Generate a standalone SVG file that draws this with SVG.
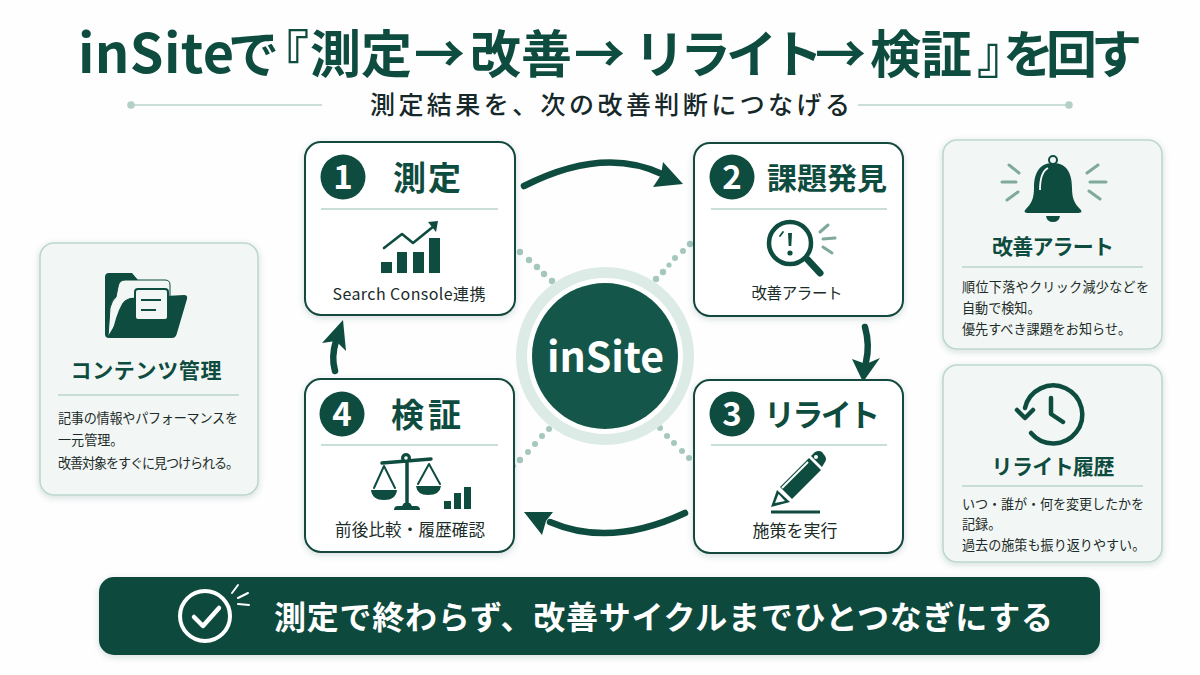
<svg xmlns="http://www.w3.org/2000/svg" width="1200" height="675" viewBox="0 0 1200 675">
<style>
text{font-family:"Noto Sans CJK JP","Noto Sans",sans-serif}
.card{fill:#fff;stroke:#12493e;stroke-width:2}
.side{fill:#f2f7f5;stroke:#bcd8ce;stroke-width:1.6}
.div{stroke:#b9d4cb;stroke-width:1.6;fill:none}
.num{fill:#0f4c40}
.numt{fill:#fff;font-size:33px;font-weight:700;text-anchor:middle}
.ttl{fill:#0f4c40;font-weight:700;font-size:33px;text-anchor:middle}
.sttl{fill:#0f4c40;font-weight:700;font-size:21px;text-anchor:middle}
.lbl{fill:#1a2b28;font-size:15.5px;text-anchor:middle}
.body{fill:#1c2b28;font-size:13.1px}
.hd{fill:#0f4c40;font-size:51px;font-weight:700}
.ic{fill:#0f4c40}
.ils{fill:none;stroke:#0f4c40;stroke-linecap:round;stroke-linejoin:round}
.ray{stroke:#7fa99b;stroke-width:3;stroke-linecap:round;fill:none}
.conn{fill:none;stroke:#0f4c40;stroke-width:6.5;stroke-linecap:round}
.dot{fill:#a5c7bc}
</style>
<defs>
<filter id="sh" x="-10%" y="-10%" width="120%" height="125%"><feDropShadow dx="0" dy="2" stdDeviation="3" flood-color="#345" flood-opacity="0.18"/></filter>
</defs>
<rect width="1200" height="675" fill="#fdfefd"/>
<g id="header">
<text class="hd" y="73"><tspan x="78" style="font-size:54px" letter-spacing="0.4">inSite</tspan><tspan x="228 258 310 361 414 470 521 574 634 680 726 772 815 870 921 977 1003 1046 1091">で『測定→改善→リライト→検証』を回す</tspan></text>
<line x1="133" y1="105" x2="322" y2="105" class="div"/><circle cx="131" cy="105" r="3.8" fill="#b3d0c6"/>
<line x1="858" y1="105" x2="1068" y2="105" class="div"/><circle cx="1069" cy="105" r="3.8" fill="#b3d0c6"/>
<text x="370" y="114" font-size="25" font-weight="500" fill="#17282a" textLength="480">測定結果を、次の改善判断につなげる</text>
</g>
<g id="connectors">
<path class="conn" d="M524 186Q603 146 662 174"/><path class="ic" d="M663 162L683 184L653 187L661 175Z"/>
<path class="conn" d="M865 327Q870 345 866 362"/><path class="ic" d="M852 359L866 364L880 358L863 382Z"/>
<path class="conn" d="M685 513Q610 548 550 522"/><path class="ic" d="M524 512L553 512L546 521L542 535Z"/>
<path class="conn" d="M335 371Q331 357 336 341"/><path class="ic" d="M343 320L346 351L336 341L322 343Z"/>
<g class="dot"><circle cx="520" cy="252" r="3.2"/><circle cx="529" cy="260" r="3.2"/><circle cx="537" cy="267" r="3.2"/><circle cx="544" cy="274" r="3.2"/><circle cx="552" cy="281" r="3.2"/>
<circle cx="656" cy="279" r="3.2"/><circle cx="663" cy="272" r="3.2"/><circle cx="669" cy="265" r="2.6"/><circle cx="675" cy="258" r="3"/><circle cx="683" cy="251" r="3"/><circle cx="690" cy="244" r="3.2"/>
<circle cx="549" cy="429" r="3"/><circle cx="542" cy="436" r="3"/><circle cx="535" cy="444" r="3"/><circle cx="528" cy="452" r="3"/><circle cx="520" cy="460" r="3.2"/><circle cx="514" cy="466" r="2"/>
<circle cx="660" cy="428" r="3"/><circle cx="667" cy="436" r="3"/><circle cx="674" cy="443" r="3"/><circle cx="682" cy="451" r="3"/><circle cx="689" cy="458" r="3"/></g>
</g>
<g id="center">
<circle cx="605" cy="356" r="83.5" fill="none" stroke="#dcebe6" stroke-width="11"/>
<circle cx="605" cy="356" r="73" fill="#15564a"/>
<text x="605.5" y="372" font-size="41" font-weight="700" fill="#fff" text-anchor="middle">inSite</text>
</g>
<g id="node1">
<rect x="305" y="142" width="210" height="173" rx="16" class="card" filter="url(#sh)"/>
<circle cx="343" cy="177" r="22.5" class="num"/><text x="343" y="189" class="numt">1</text>
<text x="427" y="190" class="ttl" textLength="68">測定</text>
<line x1="321" y1="209" x2="498" y2="209" class="div"/>
<g class="ic"><rect x="381" y="262" width="11" height="11"/><rect x="397" y="252" width="10" height="21"/><rect x="413" y="252" width="11" height="21"/><rect x="429" y="238" width="11" height="35"/><path d="M428 222L438 221L436 232Z"/></g>
<path class="ils" stroke-width="2.6" d="M384 248L402 234L413 243L434 226"/>
<text x="409" y="300" class="lbl" style="font-size:16px" textLength="153">Search Console連携</text>
</g>
<g id="node2">
<rect x="694" y="143" width="209" height="173" rx="16" class="card" filter="url(#sh)"/>
<circle cx="732" cy="177" r="22.5" class="num"/><text x="732" y="189" class="numt">2</text>
<text x="827" y="189" class="ttl" style="font-size:30px">課題発見</text>
<line x1="711" y1="209" x2="887" y2="209" class="div"/>
<circle cx="790" cy="243" r="21" class="ils" stroke-width="4.5"/>
<path class="ils" stroke-width="7" d="M808 260L820 273"/>
<path class="ic" d="M788 233h4l-.7 13h-2.600z"/><circle cx="790" cy="253" r="2.600" class="ic"/>
<path class="ils" stroke-width="1.800" d="M780 236L783 232"/>
<path class="ray" d="M820 232L828 225M823 239L835 238M823 247L832 253"/>
<text x="797" y="299" class="lbl" textLength="91">改善アラート</text>
</g>
<g id="node3">
<rect x="694" y="380" width="209" height="173" rx="16" class="card" filter="url(#sh)"/>
<circle cx="732" cy="414" r="22.5" class="num"/><text x="732" y="426" class="numt">3</text>
<text x="822" y="426" class="ttl" style="font-size:31px" textLength="116">リライト</text>
<line x1="711" y1="445" x2="887" y2="445" class="div"/>
<path class="ic" d="M771 507L777 490L790 502Z"/><path d="M775 503L778.500 494L785 501Z" fill="#fff"/>
<path class="ic" d="M780 487L809 458L821 470L792 499Z"/>
<path d="M782 488L808 462" stroke="#fff" stroke-width="2" fill="none"/>
<path class="ic" d="M811 456L815 452Q819 450 822 452L825 456Q827 459 825 462L822 467Z"/>
<circle cx="816" cy="457" r="2" fill="#fff"/>
<line x1="771" y1="512" x2="820" y2="512" stroke="#0f4c40" stroke-width="3"/>
<text x="795" y="537" class="lbl" style="font-size:17px">施策を実行</text>
</g>
<g id="node4">
<rect x="305" y="379" width="209" height="173" rx="16" class="card" filter="url(#sh)"/>
<circle cx="342" cy="414" r="22.5" class="num"/><text x="342" y="426" class="numt">4</text>
<text x="426" y="427" class="ttl" textLength="70">検証</text>
<line x1="321" y1="445" x2="498" y2="445" class="div"/>
<path class="ils" stroke-width="3.500" d="M382 463L431 459M407 460V505"/>
<circle cx="406" cy="458" r="5" class="ic"/><circle cx="406" cy="458" r="1.800" fill="#fff"/>
<path class="ic" d="M394 510q0-4 4-4h4l2-3h6l2 3h4q4 0 4 4z"/>
<path class="ils" stroke-width="2" d="M374 488L384 466L395 488M418 484L429 464L440 484"/>
<path class="ic" d="M371 490H397Q396 500 384 500Q372 500 371 490ZM416 486H441Q440 495 428 495Q417 495 416 486Z"/>
<rect x="444" y="501" width="7" height="8" class="ic"/><rect x="454" y="493" width="7" height="16" class="ic"/><rect x="464" y="487" width="7" height="22" class="ic"/>
<text x="410" y="536" class="lbl" style="font-size:16.5px" textLength="150">前後比較・履歴確認</text>
</g>
<g id="alert">
<rect x="943" y="140" width="219" height="209" rx="14" class="side" filter="url(#sh)"/>
<circle cx="1053" cy="160" r="4" fill="none" stroke="#0f4c40" stroke-width="2"/>
<path class="ic" d="M1053 163C1038 163 1034 175 1034 188C1034 199 1031 204 1026 209C1023 212 1025 213 1029 213H1077C1081 213 1083 212 1080 209C1075 204 1072 199 1072 188C1072 175 1068 163 1053 163Z"/>
<path class="ic" d="M1046 216H1060Q1059 222 1053 222Q1047 222 1046 216Z"/>
<path d="M1040 190Q1040 172 1048 168" stroke="#fff" stroke-width="1.800" fill="none"/>
<path class="ray" d="M1009 165L1019 173M1002 182H1016M1007 200L1018 192M1098 165L1087 173M1106 182H1090M1100 199L1089 191"/>
<text x="1053" y="254" class="sttl" textLength="122">改善アラート</text>
<line x1="962" y1="267" x2="1143" y2="267" class="div"/>
<text x="962" y="292" class="body" textLength="187">順位下落やクリック減少などを</text>
<text x="962" y="313" class="body">自動で検知。</text>
<text x="962" y="334" class="body">優先すべき課題をお知らせ。</text>
</g>
<g id="history">
<rect x="943" y="365" width="219" height="197" rx="14" class="side" filter="url(#sh)"/>
<path class="ils" stroke-width="4.500" d="M1025 408A29 29 0 1 1 1031 433"/>
<path class="ils" stroke-width="4.500" d="M1017 410L1025 418L1033 410M1051 398V414L1063 422"/>
<text x="1053" y="474" class="sttl" textLength="123">リライト履歴</text>
<line x1="962" y1="486" x2="1143" y2="486" class="div"/>
<text x="962" y="509" class="body" textLength="182">いつ・誰が・何を変更したかを</text>
<text x="962" y="529" class="body">記録。</text>
<text x="962" y="550" class="body">過去の施策も振り返りやすい。</text>
</g>
<g id="content">
<rect x="40" y="243" width="218" height="252" rx="14" class="side" filter="url(#sh)"/>
<path class="ic" d="M105 277q0-4 4-4h23l6 7h3q4 0 4 5V338H109q-4 0-4-4Z"/>
<path d="M108 337L110 308Q112 300 116 297L118 287Q119 280 125 280H165Q170 280 170 285V300H130Z" fill="#f2f7f5" stroke="#0f4c40" stroke-width="1"/>
<path class="ic" d="M111 338Q116 314 122 304Q124 300 130 298L184 295Q188 295 187 299L177 333Q176 338 172 338Z"/>
<rect x="135" y="289" width="33" height="31" rx="3" fill="#f2f7f5" stroke="#0f4c40" stroke-width="2"/>
<path d="M141 300H161M141 310H156" stroke="#0f4c40" stroke-width="2.200"/>
<text x="146" y="378" class="sttl" textLength="151">コンテンツ管理</text>
<line x1="58" y1="395" x2="239" y2="395" class="div"/>
<text x="58" y="423" class="body" textLength="180">記事の情報やパフォーマンスを</text>
<text x="58" y="445" class="body">一元管理。</text>
<text x="58" y="468" class="body" textLength="181">改善対象をすぐに見つけられる。</text>
</g>
<g id="footer">
<rect x="99" y="577" width="1001" height="78" rx="15" fill="#0d4a3e" filter="url(#sh)"/>
<circle cx="205" cy="616" r="25" fill="none" stroke="#fff" stroke-width="4"/>
<path d="M194 617L203 626L219 608" fill="none" stroke="#fff" stroke-width="4.500" stroke-linecap="round" stroke-linejoin="round"/>
<path d="M232 593L238 585M238 598L248 593M238 604L249 605" fill="none" stroke="#fff" stroke-width="2" stroke-linecap="round"/>
<text x="274" y="629" font-size="32" font-weight="700" fill="#fff" textLength="779">測定で終わらず、改善サイクルまでひとつなぎにする</text>
</g>
</svg>
